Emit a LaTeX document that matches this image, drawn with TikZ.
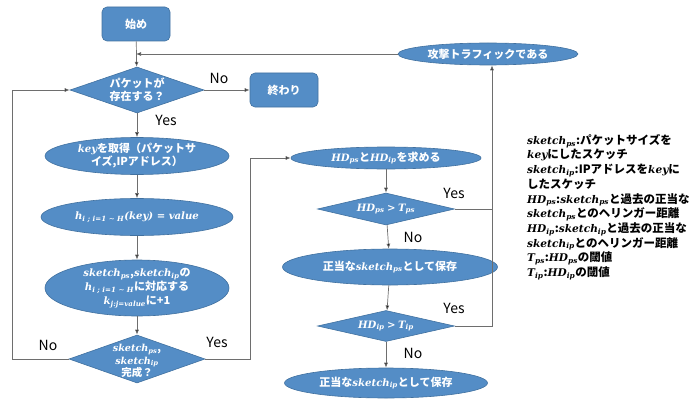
\documentclass[tikz,border=0pt]{standalone}
\usepackage{fontspec}
\setmainfont{Noto Sans CJK JP}
\newfontfamily\vfont{DejaVu Serif}[UprightFont=*,BoldFont=* Bold,ItalicFont=* Italic,BoldItalicFont=* Bold Italic]
\usetikzlibrary{shapes.geometric,arrows.meta}
\definecolor{boxfill}{RGB}{84,141,198}
\definecolor{boxline}{RGB}{65,113,160}
\definecolor{linegray}{RGB}{110,110,110}
\newcommand\vr[1]{{\vfont\bfseries\itshape\fontsize{0.92em}{1em}\selectfont #1}}
\newcommand\vsub[2]{\vr{#1}\textsubscript{\vr{#2}}}
\newcommand\skps{\vsub{sketch}{ps}}
\newcommand\skipx{\vsub{sketch}{ip}}
\newcommand\hdps{\vsub{HD}{ps}}
\newcommand\hdip{\vsub{HD}{ip}}
\newcommand\thps{\vsub{T}{ps}}
\newcommand\thip{\vsub{T}{ip}}
\newcommand\kkey{\vr{key}}
\tikzset{
  base/.style={fill=boxfill,draw=boxline,line width=0.6pt,text=white,font=\fontsize{11}{13}\selectfont\bfseries,align=center,inner sep=0pt},
  rbox/.style={base,rectangle,rounded corners=5pt},
  ebox/.style={base,ellipse},
  dbox/.style={base,diamond},
  dtext/.style={text=white,font=\fontsize{11}{13}\selectfont\bfseries,align=center,inner sep=0pt},
  conn/.style={draw=linegray,line width=0.7pt},
  arr/.style={conn,-{Latex[length=5pt,width=4pt,fill=black]}},
  yn/.style={font=\fontsize{14}{16}\selectfont,text=black,inner sep=0pt}
}
\begin{document}
\begin{tikzpicture}[x=1pt,y=-1pt]
\useasboundingbox (0,0) rectangle (700,401);
% nodes
\node[rbox,minimum width=68,minimum height=34] (start) at (136,24) {始め};
\node[dbox,minimum width=134,minimum height=46] (d1) at (137,90) {};
\node[dtext] (d1t) at (d1) {パケットが\\存在する？};
\node[rbox,minimum width=68,minimum height=34] (end) at (284,90) {終わり};
\node[ebox,minimum width=184,minimum height=37] (e1) at (137,156) {\kkey を取得（パケットサ\\イズ,IPアドレス）};
\node[ebox,minimum width=192,minimum height=37] (e2) at (137,217) {\vr{h}\textsubscript{\vr{i ; i=1 ∼ H}}\vr{(key) = value}};
\node[ebox,minimum width=184,minimum height=56] (e3) at (137,288) {\skps,\skipx の\\[1pt]\vr{h}\textsubscript{\vr{i ; i=1 ∼ H}}に対応する\\[1pt]\vr{k}\textsubscript{\vr{j:j=value}}に+1};
\node[dbox,minimum width=136,minimum height=48] (d2) at (137,359) {};
\node[dtext,font=\fontsize{10.5}{12.5}\selectfont\bfseries] (d2t) at (137,361) {\skps,\\\skipx\\完成？};
\node[ebox,minimum width=180,minimum height=22] (att) at (488,54) {攻撃トラフィックである};
\node[ebox,minimum width=190,minimum height=22] (e4) at (386,158) {\hdps と\hdip を求める};
\node[dbox,minimum width=137,minimum height=32] (d3) at (386,209) {};
\node[dtext] (d3t) at (d3) {\hdps\ \vr{>}\ \thps};
\node[ebox,minimum width=215,minimum height=36] (e5) at (390,267) {正当な\skps として保存};
\node[dbox,minimum width=137,minimum height=31] (d4) at (386,326) {};
\node[dtext] (d4t) at (d4) {\hdip\ \vr{>}\ \thip};
\node[ebox,minimum width=203,minimum height=30] (e6) at (386,383) {正当な\skipx として保存};
\node[anchor=north west,align=left,inner sep=0pt,font=\fontsize{11.5}{14.7}\selectfont\bfseries] (legend) at (527,134) {%
\skps:パケットサイズを\\
\kkey にしたスケッチ\\
\skipx:IPアドレスを\kkey に\\
したスケッチ\\
\hdps:\skps と過去の正当な\\
\skps とのヘリンガー距離\\
\hdip:\skipx と過去の正当な\\
\skipx とのヘリンガー距離\\
\thps:\hdps の閾値\\
\thip:\hdip の閾値};
% coordinates
\coordinate (lx) at (12,0);
\coordinate (mx) at (250,0);
\coordinate (rx) at (492,0);
% connectors
\draw[arr] (start) -- (d1);
\draw[arr] (att.west) -- (att.west -| start.south);
\draw[arr] (d1) -- (end);
\draw[arr] (d1) -- (e1);
\draw[arr] (e1) -- (e2);
\draw[arr] (e2) -- (e3);
\draw[arr] (e3) -- (d2);
\draw[arr] (d2.west) -- (d2.west -| lx) |- (d1.west);
\draw[arr] (d2.east) -- (d2.east -| mx) |- (e4.west);
\draw[arr] (e4) -- (d3);
\draw[arr] (d3) -- (e5);
\draw[arr] (e5) -- (d4);
\draw[arr] (d4) -- (e6);
\draw[arr] (d3.east) -- (d3.east -| rx) -- (rx |- att.south);
\draw[conn] (d4.east) -| (d3.east -| rx);
% labels
\node[yn] (l1) at (219,78) {No};
\node[yn] (l2) at (166,120) {Yes};
\node[yn] (l3) at (48,345) {No};
\node[yn] (l4) at (217,342) {Yes};
\node[yn] (l5) at (454,193) {Yes};
\node[yn] (l6) at (413,237) {No};
\node[yn] (l7) at (454,308) {Yes};
\node[yn] (l8) at (413,353) {No};
\end{tikzpicture}
\end{document}
